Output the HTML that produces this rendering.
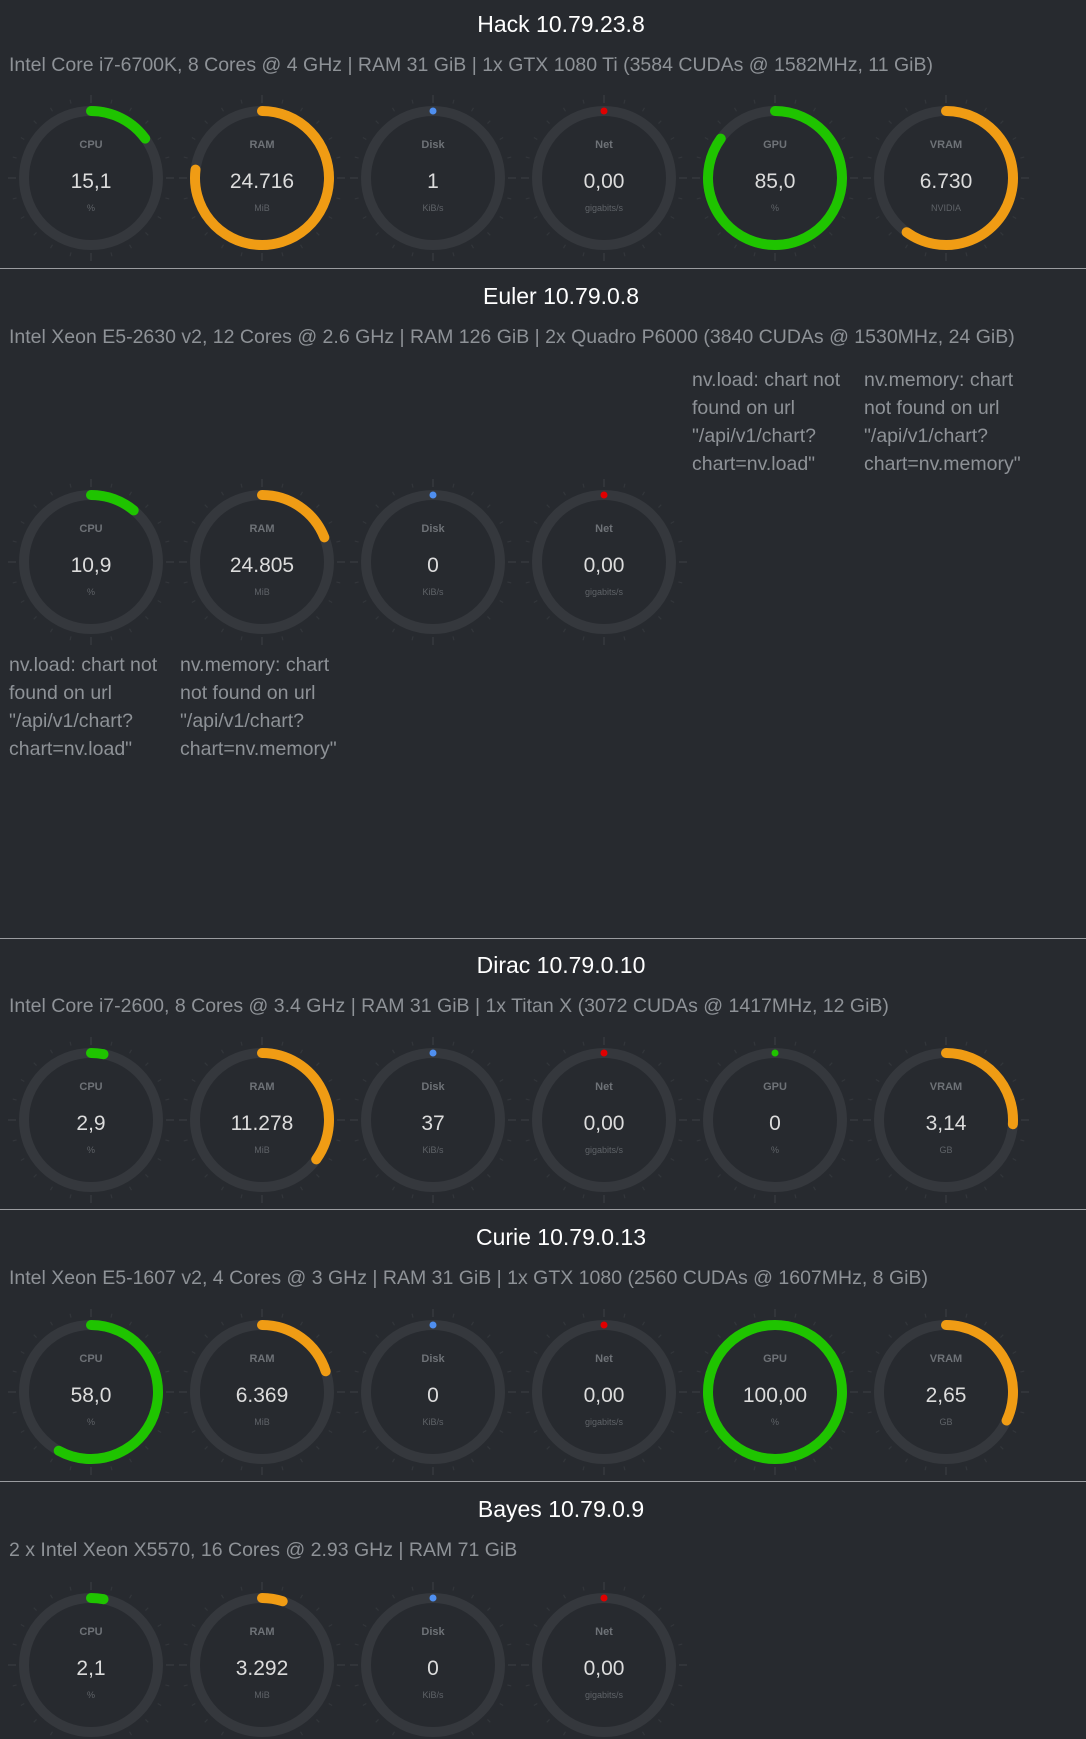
<!DOCTYPE html>
<html><head><meta charset="utf-8"><style>
html,body{margin:0;padding:0;background:#272a2f;width:1086px;height:1739px;overflow:hidden;font-family:"Liberation Sans",sans-serif}
.title{position:absolute;left:0;width:1122px;text-align:center;color:#fff;font-size:23px}
.sub{position:absolute;left:9px;color:#8e9297;font-size:19.5px;white-space:nowrap}
.sep{position:absolute;left:0;width:1086px;height:1px;background:#9a9ca0}
.err{position:absolute;color:#8e9297;font-size:19.5px;line-height:28px;width:170px}
svg{position:absolute;left:0;top:0}
</style></head><body>
<div class="title" style="top:11px">Hack 10.79.23.8</div>
<div class="sub" style="top:54px">Intel Core i7-6700K, 8 Cores @ 4 GHz | RAM 31 GiB | 1x GTX 1080 Ti (3584 CUDAs @ 1582MHz, 11 GiB)</div>
<div class="sep" style="top:268px"></div>
<div class="title" style="top:283px">Euler 10.79.0.8</div>
<div class="sub" style="top:326px">Intel Xeon E5-2630 v2, 12 Cores @ 2.6 GHz | RAM 126 GiB | 2x Quadro P6000 (3840 CUDAs @ 1530MHz, 24 GiB)</div>
<div class="err" style="left:692px;top:366px">nv.load: chart not found on url "/api/v1/chart? chart=nv.load"</div>
<div class="err" style="left:864px;top:366px">nv.memory: chart not found on url "/api/v1/chart? chart=nv.memory"</div>
<div class="err" style="left:9px;top:651px">nv.load: chart not found on url "/api/v1/chart? chart=nv.load"</div>
<div class="err" style="left:180px;top:651px">nv.memory: chart not found on url "/api/v1/chart? chart=nv.memory"</div>
<div class="sep" style="top:938px"></div>
<div class="title" style="top:952px">Dirac 10.79.0.10</div>
<div class="sub" style="top:995px">Intel Core i7-2600, 8 Cores @ 3.4 GHz | RAM 31 GiB | 1x Titan X (3072 CUDAs @ 1417MHz, 12 GiB)</div>
<div class="sep" style="top:1209px"></div>
<div class="title" style="top:1224px">Curie 10.79.0.13</div>
<div class="sub" style="top:1267px">Intel Xeon E5-1607 v2, 4 Cores @ 3 GHz | RAM 31 GiB | 1x GTX 1080 (2560 CUDAs @ 1607MHz, 8 GiB)</div>
<div class="sep" style="top:1481px"></div>
<div class="title" style="top:1496px">Bayes 10.79.0.9</div>
<div class="sub" style="top:1539px">2 x Intel Xeon X5570, 16 Cores @ 2.93 GHz | RAM 71 GiB</div>
<svg id="g" width="1086" height="1739"></svg>
<script>
const rowY=[178,562,1120,1392,1665];
const colX=[91,262,433,604,775,946];
const gaugeLabels=["CPU","RAM","Disk","Net","GPU","VRAM"];
const hackValues=["15,1","24.716","1","0,00","85,0","6.730"];
const hackFrac=[0.15,0.77,0,0,0.85,0.6];
const hackUnits=["%","MiB","KiB/s","gigabits/s","%","NVIDIA"];
const eulerValues=["10,9","24.805","0","0,00"];
const eulerFrac=[0.11,0.19,0,0];
const diracValues=["2,9","11.278","37","0,00","0","3,14"];
const diracFrac=[0.03,0.35,0,0,0,0.26];
const curieValues=["58,0","6.369","0","0,00","100,00","2,65"];
const curieFrac=[0.58,0.2,0,0,1,0.32];
const bayesValues=["2,1","3.292","0","0,00"];
const bayesFrac=[0.03,0.05,0,0];
const units6=["%","MiB","KiB/s","gigabits/s","%","GB"];
const colors=["#1fc400","#f09c14","#4f8ff0","#e00000","#1fc400","#f09c14"];
const rows=[[hackValues,hackFrac,hackUnits],[eulerValues,eulerFrac,units6],[diracValues,diracFrac,units6],[curieValues,curieFrac,units6],[bayesValues,bayesFrac,units6]];
const svg=document.getElementById('g');const NS="http://www.w3.org/2000/svg";
function mk(t,a){const e=document.createElementNS(NS,t);for(const k in a)e.setAttribute(k,a[k]);svg.appendChild(e);return e;}
const R=67;
function pt(cx,cy,r,f){const a=f*2*Math.PI;return [cx+r*Math.sin(a),cy-r*Math.cos(a)];}
rows.forEach((row,ri)=>{const [vals,fr,un]=row;const cy=rowY[ri];
vals.forEach((v,i)=>{const cx=colX[i];
for(let t=0;t<24;t++){const maj=t%6==0;const [x1,y1]=pt(cx,cy,maj?75:77,t/24);const [x2,y2]=pt(cx,cy,maj?83:81,t/24);
const tk=mk('line',{x1,y1,x2,y2,stroke:maj?'#3a3d42':'#33363b','stroke-width':1.2});

}
const tr=mk('circle',{cx,cy,r:R,fill:'none',stroke:'#35383d','stroke-width':10});


const f=fr[i];
if(f<=0){const d=mk('circle',{cx,cy:cy-R,r:3.5,fill:colors[i]});

}
else if(f>=0.999){const c=mk('circle',{cx,cy,r:R,fill:'none',stroke:colors[i],'stroke-width':10});

}
else{const [ex,ey]=pt(cx,cy,R,f);const p=mk('path',{d:`M${cx} ${cy-R} A${R} ${R} 0 ${f>0.5?1:0} 1 ${ex} ${ey}`,fill:'none',stroke:colors[i],'stroke-width':10,'stroke-linecap':'round'});

}
const l=mk('text',{x:cx,y:cy-30,'text-anchor':'middle',fill:'#6e7277','font-size':11,'font-weight':'bold','font-family':'Liberation Sans'});l.textContent=gaugeLabels[i];


const vt=mk('text',{x:cx,y:cy+10,'text-anchor':'middle',fill:'#dcdcdc','font-size':21,'font-family':'Liberation Sans'});vt.textContent=v;


const ut=mk('text',{x:cx,y:cy+33,'text-anchor':'middle',fill:'#5f6368','font-size':9,'font-family':'Liberation Sans'});ut.textContent=un[i];


});});
</script>
</body></html>
